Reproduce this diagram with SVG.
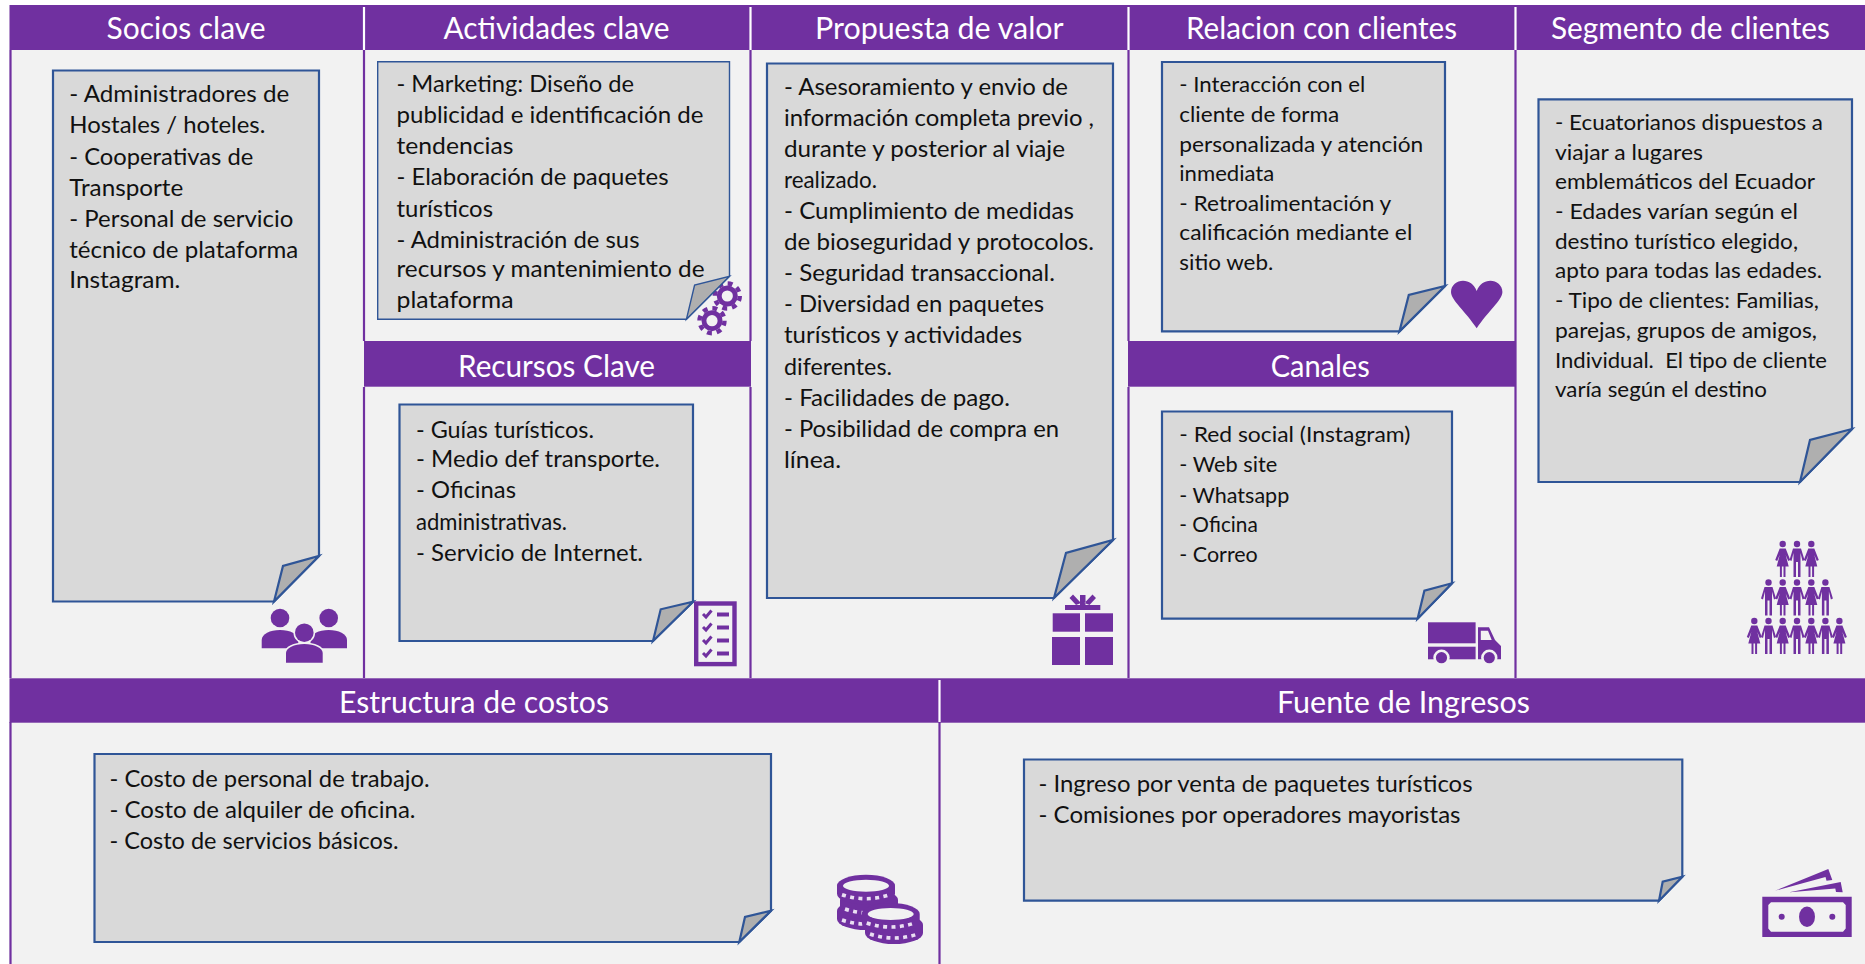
<svg xmlns="http://www.w3.org/2000/svg" xmlns:xlink="http://www.w3.org/1999/xlink" width="1865" height="964" viewBox="0 0 1865 964">
<style>
.band{fill:#7030A0}
.div{stroke:#7030A0;stroke-width:2.2;fill:none}
.wdiv{stroke:#FFFFFF;stroke-width:2.2;fill:none}
.note{fill:#D9D9D9;stroke:#2F5597;stroke-width:2.2;stroke-linejoin:miter}
.fold{fill:#AFAFAF;stroke:#2F5597;stroke-width:2.2;stroke-linejoin:miter}
.thin{stroke-width:1.4}
.h{font-family:Lato,"Open Sans","Liberation Sans",sans-serif;font-size:30px;fill:#FFFFFF}
.t{font-family:Lato,"Open Sans","Liberation Sans",sans-serif;font-size:23.5px;fill:#111111;white-space:pre}
.r{font-size:22px}
.i{fill:#7030A0}
.bg{fill:#F2F2F2}
</style>
<defs>
<g id="man"><circle cx="0" cy="0" r="3.2"/><path d="M-4,4.5H4L7.5,16L5.5,17L3.5,9V33H1V18H-1V33H-3.5V9L-5.5,17L-7.5,16Z"/></g>
<g id="woman"><circle cx="0" cy="0" r="3.2"/><path d="M-3,4.5H3L7.5,16L5.5,17L3,11L6,22.5H2.8V33H0.8V22.5H-0.8V33H-2.8V22.5H-6L-3,11L-5.5,17L-7.5,16Z"/></g>
<g id="coin"><path d="M-29,0A29,11 0 0 1 29,0V8A29,11 0 0 1 -29,8Z"/><path d="M-24,9Q0,17 24,9" fill="none" stroke="#EADFF2" stroke-width="3.6" stroke-dasharray="4 4.4"/></g>
<g id="gear"><circle r="10.5"/><circle r="12.5" fill="none" stroke="#7030A0" stroke-width="4.4" stroke-dasharray="4.9 4.92"/><circle r="5.6" fill="#F2F2F2"/></g>
</defs>

<rect width="1865" height="964" fill="#FFFFFF"/>
<g id="panels">
<rect class="bg" x="9.5" y="5" width="1855.5" height="959"/>
<rect class="band" x="9.5" y="5" width="1855.5" height="45"/>
<rect class="band" x="364" y="341" width="387" height="45.7"/>
<rect class="band" x="1128" y="341" width="387.5" height="45.7"/>
<rect class="band" x="9.5" y="678.3" width="1855.5" height="44.4"/>
<path class="div" d="M10.5,50V678M364,50V341M364,387V678M750.5,50V341M750.5,387V678M1128.5,50V341M1128.5,387V678M1515.5,50V678M10.5,722V964M939.5,722V964"/>
<path class="wdiv" d="M364,7V50M750.5,7V50M1128.5,7V50M1515.5,7V50M939.5,680V722"/>
</g>

<g id="socios-clave">
<text class="h" x="106.6" y="39.3" textLength="159" lengthAdjust="spacingAndGlyphs">Socios clave</text>
<path class="note" d="M53,70.5H319V556L274,601.5H53Z"/>
<path class="fold" d="M274,601.5L283,566L319,556Z"/>
<text class="t" x="69.3" y="101.7" textLength="220" lengthAdjust="spacingAndGlyphs">- Administradores de</text>
<text class="t" x="69.3" y="132.7" textLength="196" lengthAdjust="spacingAndGlyphs">Hostales / hoteles.</text>
<text class="t" x="69.3" y="165" textLength="184" lengthAdjust="spacingAndGlyphs">- Cooperativas de</text>
<text class="t" x="69.3" y="196" textLength="114" lengthAdjust="spacingAndGlyphs">Transporte</text>
<text class="t" x="69.3" y="226.7" textLength="224" lengthAdjust="spacingAndGlyphs">- Personal de servicio</text>
<text class="t" x="69.3" y="257.7" textLength="229" lengthAdjust="spacingAndGlyphs">técnico de plataforma</text>
<text class="t" x="69.3" y="287.7" textLength="111" lengthAdjust="spacingAndGlyphs">Instagram.</text>
<g class="i">
<path d="M261.7,648.3V640C261.7,634 270,630 280,630C290,630 298.3,634 298.3,640V648.3Z"/>
<path d="M310.5,648.3V640C310.5,634 318.7,630 328.7,630C338.7,630 347,634 347,640V648.3Z"/>
<circle cx="280" cy="618" r="9.3"/>
<circle cx="328.7" cy="618" r="9.3"/>
<path d="M286,662.7V653C286,648 294,644 304.3,644C314.6,644 322.7,648 322.7,653V662.7Z" stroke="#F2F2F2" stroke-width="3" paint-order="stroke"/>
<circle cx="304.3" cy="632.7" r="9.3" stroke="#F2F2F2" stroke-width="3" paint-order="stroke"/>
</g>
</g>

<g id="actividades-clave">
<text class="h" x="443.5" y="39.3" textLength="226" lengthAdjust="spacingAndGlyphs">Actividades clave</text>
<g class="i"><use xlink:href="#gear" href="#gear" x="727.3" y="296"/><use xlink:href="#gear" href="#gear" x="712" y="320.7"/></g>
<path class="note thin" d="M377.7,61.7H729.5V276.3L686.4,319.3H377.7Z"/>
<path class="fold thin" d="M686.4,319.3L694.6,285L729.5,276.3Z"/>
<text class="t" x="396.5" y="91.7" textLength="237.5" lengthAdjust="spacingAndGlyphs">- Marketing: Diseño de</text>
<text class="t" x="396.5" y="123.3" textLength="307" lengthAdjust="spacingAndGlyphs">publicidad e identificación de</text>
<text class="t" x="396.5" y="154" textLength="117" lengthAdjust="spacingAndGlyphs">tendencias</text>
<text class="t" x="396.5" y="185" textLength="272" lengthAdjust="spacingAndGlyphs">- Elaboración de paquetes</text>
<text class="t" x="396.5" y="216.7" textLength="96.5" lengthAdjust="spacingAndGlyphs">turísticos</text>
<text class="t" x="396.5" y="248.3" textLength="243" lengthAdjust="spacingAndGlyphs">- Administración de sus</text>
<text class="t" x="396.5" y="277.3" textLength="308" lengthAdjust="spacingAndGlyphs">recursos y mantenimiento de</text>
<text class="t" x="396.5" y="308.3" textLength="117" lengthAdjust="spacingAndGlyphs">plataforma</text>
</g>

<g id="recursos-clave">
<text class="h" x="458" y="376.5" textLength="197" lengthAdjust="spacingAndGlyphs">Recursos Clave</text>
<path class="note" d="M399.5,404.5H693V601.7L653,641H399.5Z"/>
<path class="fold" d="M653,641L660.7,609.3L693,601.7Z"/>
<text class="t" x="416" y="437.7" textLength="178" lengthAdjust="spacingAndGlyphs">- Guías turísticos.</text>
<text class="t" x="416" y="467.4" textLength="244" lengthAdjust="spacingAndGlyphs">- Medio def transporte.</text>
<text class="t" x="416" y="498.4" textLength="100" lengthAdjust="spacingAndGlyphs">- Oficinas</text>
<text class="t" x="416" y="529.5" textLength="151" lengthAdjust="spacingAndGlyphs">administrativas.</text>
<text class="t" x="416" y="561.4" textLength="227" lengthAdjust="spacingAndGlyphs">- Servicio de Internet.</text>
<rect x="696.2" y="603.5" width="38.3" height="60.6" fill="none" stroke="#7030A0" stroke-width="4.4"/>
<path d="M717,614.5H729M717,627.5H729M717,640.5H729M717,653.5H729" stroke="#7030A0" stroke-width="4" fill="none"/>
<path d="M703,614L706,617L711.5,610.5M703,627L706,630L711.5,623.5M703,640L706,643L711.5,636.5M703,653L706,656L711.5,649.5" stroke="#7030A0" stroke-width="3" fill="none"/>
</g>

<g id="propuesta-de-valor">
<text class="h" x="815" y="39.3" textLength="248.6" lengthAdjust="spacingAndGlyphs">Propuesta de valor</text>
<path class="note" d="M767,63.5H1113V540L1054,598H767Z"/>
<path class="fold" d="M1054,598L1066,553L1113,540Z"/>
<text class="t" x="784" y="95" textLength="284" lengthAdjust="spacingAndGlyphs">- Asesoramiento y envio de</text>
<text class="t" x="784" y="126" textLength="310" lengthAdjust="spacingAndGlyphs">información completa previo ,</text>
<text class="t" x="784" y="157" textLength="281" lengthAdjust="spacingAndGlyphs">durante y posterior al viaje</text>
<text class="t" x="784" y="188" textLength="93" lengthAdjust="spacingAndGlyphs">realizado.</text>
<text class="t" x="784" y="219" textLength="290" lengthAdjust="spacingAndGlyphs">- Cumplimiento de medidas</text>
<text class="t" x="784" y="250.3" textLength="310" lengthAdjust="spacingAndGlyphs">de bioseguridad y protocolos.</text>
<text class="t" x="784" y="281.3" textLength="271" lengthAdjust="spacingAndGlyphs">- Seguridad transaccional.</text>
<text class="t" x="784" y="312.4" textLength="260" lengthAdjust="spacingAndGlyphs">- Diversidad en paquetes</text>
<text class="t" x="784" y="343.4" textLength="238" lengthAdjust="spacingAndGlyphs">turísticos y actividades</text>
<text class="t" x="784" y="374.5" textLength="108" lengthAdjust="spacingAndGlyphs">diferentes.</text>
<text class="t" x="784" y="405.5" textLength="226" lengthAdjust="spacingAndGlyphs">- Facilidades de pago.</text>
<text class="t" x="784" y="436.6" textLength="275" lengthAdjust="spacingAndGlyphs">- Posibilidad de compra en</text>
<text class="t" x="784" y="467.6" textLength="57" lengthAdjust="spacingAndGlyphs">línea.</text>
<g class="i">
<rect x="1065" y="605" width="35.3" height="5"/>
<path d="M1080,605V595H1085.5V605ZM1069.5,598L1073,594.5L1081,603L1076,605ZM1096,598L1092.5,594.5L1084.5,603L1089.5,605Z"/>
<rect x="1052.7" y="613.3" width="27.3" height="18.4"/>
<rect x="1085" y="613.3" width="28" height="18.4"/>
<rect x="1052" y="637" width="28" height="28"/>
<rect x="1085" y="637" width="28" height="28"/>
</g>
</g>

<g id="relacion-con-clientes">
<text class="h" x="1186" y="39.3" textLength="271" lengthAdjust="spacingAndGlyphs">Relacion con clientes</text>
<path class="note" d="M1162,62H1445V286L1399.5,331.3H1162Z"/>
<path class="fold" d="M1399.5,331.3L1408.8,295L1445,286Z"/>
<text class="t r" x="1179.3" y="92.3" textLength="186" lengthAdjust="spacingAndGlyphs">- Interacción con el</text>
<text class="t r" x="1179.3" y="121.9" textLength="160" lengthAdjust="spacingAndGlyphs">cliente de forma</text>
<text class="t r" x="1179.3" y="151.5" textLength="244" lengthAdjust="spacingAndGlyphs">personalizada y atención</text>
<text class="t r" x="1179.3" y="181" textLength="95" lengthAdjust="spacingAndGlyphs">inmediata</text>
<text class="t r" x="1179.3" y="210.7" textLength="212" lengthAdjust="spacingAndGlyphs">- Retroalimentación y</text>
<text class="t r" x="1179.3" y="240.3" textLength="233" lengthAdjust="spacingAndGlyphs">calificación mediante el</text>
<text class="t r" x="1179.3" y="270" textLength="94" lengthAdjust="spacingAndGlyphs">sitio web.</text>
<path class="i" d="M1476.7,328.3C1466,312 1451,300 1451,292C1451,285 1457,280.7 1463,280.7C1469,280.7 1474,284 1476.7,291C1479.4,284 1484.4,280.7 1490.4,280.7C1496.4,280.7 1502.4,285 1502.4,292C1502.4,300 1487.4,312 1476.7,328.3Z"/>
</g>

<g id="canales">
<text class="h" x="1270.7" y="376.5" textLength="99" lengthAdjust="spacingAndGlyphs">Canales</text>
<path class="note" d="M1162,411.5H1452V583.3L1417.6,618.7H1162Z"/>
<path class="fold" d="M1417.6,618.7L1424.4,590.7L1452,583.3Z"/>
<text class="t r" x="1179.3" y="442" textLength="231" lengthAdjust="spacingAndGlyphs">- Red social (Instagram)</text>
<text class="t r" x="1179.3" y="471.7" textLength="98" lengthAdjust="spacingAndGlyphs">- Web site</text>
<text class="t r" x="1179.3" y="502.7" textLength="110" lengthAdjust="spacingAndGlyphs">- Whatsapp</text>
<text class="t r" x="1179.3" y="531.7" textLength="78.5" lengthAdjust="spacingAndGlyphs">- Oficina</text>
<text class="t r" x="1179.3" y="561.7" textLength="78.5" lengthAdjust="spacingAndGlyphs">- Correo</text>
<g class="i">
<rect x="1428" y="622.3" width="47.6" height="21"/>
<rect x="1428" y="646.7" width="47.6" height="12.6"/>
<path fill-rule="evenodd" d="M1478,627.3H1489L1495,640L1501,646V659.3H1478ZM1480.8,630.7V640H1491.7L1488,630.7Z"/>
<circle cx="1441.5" cy="657.7" r="8.2" fill="#F2F2F2"/>
<circle cx="1441.5" cy="657.7" r="5.6"/>
<circle cx="1489.3" cy="657.7" r="8.2" fill="#F2F2F2"/>
<circle cx="1489.3" cy="657.7" r="5.6"/>
</g>
</g>

<g id="segmento-de-clientes">
<text class="h" x="1551" y="39.3" textLength="279" lengthAdjust="spacingAndGlyphs">Segmento de clientes</text>
<path class="note" d="M1538.5,99.3H1852V429L1800,482H1538.5Z"/>
<path class="fold" d="M1800,482L1810,440L1852,429Z"/>
<text class="t r" x="1555" y="130" textLength="268" lengthAdjust="spacingAndGlyphs">- Ecuatorianos dispuestos a</text>
<text class="t r" x="1555" y="159.7" textLength="148" lengthAdjust="spacingAndGlyphs">viajar a lugares</text>
<text class="t r" x="1555" y="189.4" textLength="260" lengthAdjust="spacingAndGlyphs">emblemáticos del Ecuador</text>
<text class="t r" x="1555" y="219" textLength="243" lengthAdjust="spacingAndGlyphs">- Edades varían según el</text>
<text class="t r" x="1555" y="248.5" textLength="243" lengthAdjust="spacingAndGlyphs">destino turístico elegido,</text>
<text class="t r" x="1555" y="278" textLength="267" lengthAdjust="spacingAndGlyphs">apto para todas las edades.</text>
<text class="t r" x="1555" y="308" textLength="264" lengthAdjust="spacingAndGlyphs">- Tipo de clientes: Familias,</text>
<text class="t r" x="1555" y="337.7" textLength="262" lengthAdjust="spacingAndGlyphs">parejas, grupos de amigos,</text>
<text class="t r" x="1555" y="367.7" textLength="272" lengthAdjust="spacingAndGlyphs">Individual.  El tipo de cliente</text>
<text class="t r" x="1555" y="396.7" textLength="212" lengthAdjust="spacingAndGlyphs">varía según el destino</text>
<g class="i">
<use xlink:href="#woman" href="#woman" x="1782.7" y="544"/><use xlink:href="#man" href="#man" x="1797" y="544"/><use xlink:href="#woman" href="#woman" x="1811.3" y="544"/>
<use xlink:href="#man" href="#man" x="1768.5" y="582.5"/><use xlink:href="#woman" href="#woman" x="1782.7" y="582.5"/><use xlink:href="#man" href="#man" x="1797" y="582.5"/><use xlink:href="#woman" href="#woman" x="1811.3" y="582.5"/><use xlink:href="#man" href="#man" x="1825.4" y="582.5"/>
<use xlink:href="#woman" href="#woman" x="1754.3" y="621"/><use xlink:href="#man" href="#man" x="1768.5" y="621"/><use xlink:href="#woman" href="#woman" x="1782.7" y="621"/><use xlink:href="#man" href="#man" x="1797" y="621"/><use xlink:href="#woman" href="#woman" x="1811.3" y="621"/><use xlink:href="#man" href="#man" x="1825.4" y="621"/><use xlink:href="#woman" href="#woman" x="1839.4" y="621"/>
</g>
</g>

<g id="estructura-de-costos">
<text class="h" x="339" y="713" textLength="270" lengthAdjust="spacingAndGlyphs">Estructura de costos</text>
<path class="note" d="M94.5,754H771V910.7L739.3,942H94.5Z"/>
<path class="fold" d="M739.3,942L745,917L771,910.7Z"/>
<text class="t" x="109.5" y="787.4" textLength="320" lengthAdjust="spacingAndGlyphs">- Costo de personal de trabajo.</text>
<text class="t" x="109.5" y="818.3" textLength="306" lengthAdjust="spacingAndGlyphs">- Costo de alquiler de oficina.</text>
<text class="t" x="109.5" y="849.2" textLength="289" lengthAdjust="spacingAndGlyphs">- Costo de servicios básicos.</text>
<g class="i">
<use xlink:href="#coin" href="#coin" x="866" y="911"/>
<use xlink:href="#coin" href="#coin" x="869" y="900"/>
<use xlink:href="#coin" href="#coin" x="866" y="885.7"/>
<ellipse cx="866" cy="885.7" rx="23" ry="6" fill="#F2F2F2"/>
<use xlink:href="#coin" href="#coin" x="894" y="925"/>
<use xlink:href="#coin" href="#coin" x="890.7" y="914"/>
<ellipse cx="890.7" cy="914" rx="23" ry="6" fill="#F2F2F2"/>
</g>
</g>

<g id="fuente-de-ingresos">
<text class="h" x="1277" y="713" textLength="253" lengthAdjust="spacingAndGlyphs">Fuente de Ingresos</text>
<path class="note" d="M1024,759.5H1682.3V876.7L1659,900.7H1024Z"/>
<path class="fold" d="M1659,900.7L1662.7,881.7L1682.3,876.7Z"/>
<text class="t" x="1038.5" y="792" textLength="434" lengthAdjust="spacingAndGlyphs">- Ingreso por venta de paquetes turísticos</text>
<text class="t" x="1038.5" y="823" textLength="422" lengthAdjust="spacingAndGlyphs">- Comisiones por operadores mayoristas</text>
<g class="i">
<path fill-rule="evenodd" d="M1762.3,896.7H1851.7V937H1762.3ZM1771,902.3L1768.3,905V928.5L1771,931.7H1843L1845.7,928.5V905L1843,902.3Z"/>
<ellipse cx="1807" cy="916.7" rx="8" ry="10.3"/>
<circle cx="1781.7" cy="916.7" r="3"/>
<circle cx="1832.3" cy="916.7" r="3"/>
<path d="M1775,890.7L1828.3,869L1832.3,880L1826.5,880.7L1825.5,877Z"/>
<path d="M1789.3,892.3L1840.7,882L1842.7,892.3L1836,892L1835.3,888.5Z"/>
</g>
</g>
</svg>
